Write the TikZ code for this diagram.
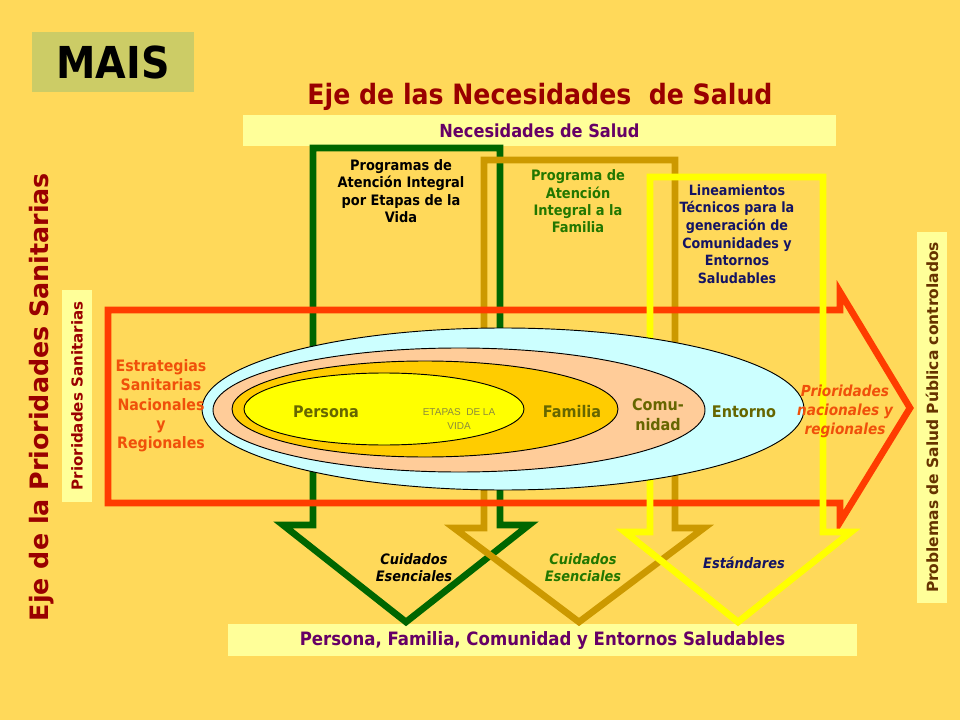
\documentclass[tikz,border=0pt]{standalone}
\usepackage{fontspec}
\setmainfont{DejaVu Sans Condensed}
\newfontfamily\verd{DejaVu Sans}
\newfontfamily\arialf{Liberation Sans}
\usetikzlibrary{shapes.geometric}
\definecolor{bgc}{RGB}{255,217,90}
\definecolor{maisc}{RGB}{204,204,102}
\definecolor{boxc}{RGB}{255,255,153}
\definecolor{darkred}{RGB}{153,0,0}
\definecolor{purp}{RGB}{102,0,102}
\definecolor{brownc}{RGB}{102,51,0}
\definecolor{greenc}{RGB}{0,102,0}
\definecolor{greentxt}{RGB}{34,119,0}
\definecolor{tanc}{RGB}{204,153,0}
\definecolor{yelc}{RGB}{255,255,0}
\definecolor{redc}{RGB}{255,60,0}
\definecolor{redtxt}{RGB}{240,80,10}
\definecolor{navyc}{RGB}{20,20,100}
\definecolor{olivec}{RGB}{102,102,0}
\definecolor{etapc}{RGB}{140,140,60}
\definecolor{bluec}{RGB}{204,255,255}
\definecolor{peachc}{RGB}{255,204,153}
\definecolor{orangec}{RGB}{255,204,0}
\newcommand{\fsz}[2]{\fontsize{#1}{#2}\selectfont}
\tikzset{
  txt/.style={align=center, inner sep=0pt},
  lbox/.style={fill=boxc, inner sep=0pt},
  shaft/.style={line width=5pt, line join=miter},
  ell/.style={ellipse, draw=black, line width=0.7pt, inner sep=0pt},
  inell/.style={txt, text=olivec, font=\fsz{12}{15}\bfseries},
}
\begin{document}
\begin{tikzpicture}[x=0.75pt,y=-0.75pt]
\fill[bgc] (0,0) rectangle (960,720);
\useasboundingbox (0,0) rectangle (960,720);

% MAIS
\node[fill=maisc, minimum width=121.5pt, minimum height=45pt, inner sep=0pt] (mais) at (113,62) {\fsz{33}{33}\bfseries MAIS};

% titles
\node[txt, text=darkred, font=\fsz{21}{24}\bfseries] (titletop) at (540,97) {Eje de las Necesidades~ de Salud};
\node[lbox, minimum width=444.75pt, minimum height=23.25pt, text=purp, font=\fsz{13.5}{15}\bfseries] (necbox) at (539.5,130.5) {Necesidades de Salud};
\node[lbox, minimum width=471.75pt, minimum height=24pt, text=purp, font=\fsz{13.8}{15}\bfseries] (botbox) at (542.5,640) {Persona, Familia, Comunidad y Entornos Saludables};
\node[txt, rotate=90, text=darkred, font=\verd\fsz{19}{22}\bfseries] (titleleft) at (42,397) {Eje de la Prioridades Sanitarias};
\node[lbox, rotate=90, minimum width=159pt, minimum height=22.5pt, text=darkred, font=\verd\fsz{11.3}{13}\bfseries] (priobox) at (77,396) {Prioridades Sanitarias};
\node[lbox, rotate=90, minimum width=278.25pt, minimum height=22.5pt, text=brownc, font=\verd\fsz{11.6}{13}\bfseries] (probbox) at (932,417.5) {Problemas de Salud Pública controlados};

% arrows
\draw[shaft, greenc] (313,148) -- (500,148) -- (500,525) -- (529,525) -- (406,622) -- (283,525) -- (313,525) -- cycle;
\draw[shaft, tanc] (484,160) -- (675,160) -- (675,528) -- (704,528) -- (579,622) -- (454,528) -- (484,528) -- cycle;
\draw[shaft, redc] (108,310) -- (840,310) -- (840,292) -- (910,408) -- (840,522) -- (840,503) -- (108,503) -- cycle;
\draw[shaft, yelc] (650,177) -- (823,177) -- (823,532) -- (851,532) -- (738,622) -- (625,532) -- (650,532) -- cycle;

% ellipses
\node[ell, fill=bluec, minimum width=451.5pt, minimum height=121.5pt] (entorno) at (503,409) {};
\node[ell, fill=peachc, minimum width=369pt, minimum height=93pt] (comunidad) at (459,410) {};
\node[ell, fill=orangec, minimum width=289.5pt, minimum height=72pt] (familia) at (425,409) {};
\node[ell, fill=yelc, minimum width=210pt, minimum height=54pt] (persona) at (384,409) {};

% ellipse labels
\node[inell] (tpersona) at (326,412) {Persona};
\node[txt, text=etapc, font=\arialf\fsz{7.5}{11}] (tetapas) at (459,419) {ETAPAS~ DE LA\\VIDA};
\node[inell] (tfamilia) at (572,412) {Familia};
\node[inell] (tcomu) at (658,415) {Comu-\\nidad};
\node[inell] (tentorno) at (744,412) {Entorno};

% arrow labels
\node[txt, text=black, font=\fsz{10.8}{13}\bfseries] (tprog) at (401,191) {Programas de\\Atención Integral\\por Etapas de la\\Vida};
\node[txt, text=greentxt, font=\fsz{10.8}{13}\bfseries] (tfam) at (578,201.5) {Programa de\\Atención\\Integral a la\\Familia};
\node[txt, text=navyc, font=\fsz{10.6}{13.2}\bfseries] (tlin) at (737,234) {Lineamientos\\Técnicos para la\\generación de\\Comunidades y\\Entornos\\Saludables};
\node[txt, text=redtxt, font=\fsz{11.8}{14.5}\bfseries] (testr) at (161,406) {Estrategias\\Sanitarias\\Nacionales\\y\\Regionales};
\node[txt, text=redtxt, font=\fsz{11.4}{14.3}\bfseries\itshape] (tprio) at (845,411) {Prioridades\\nacionales y\\regionales};
\node[txt, text=black, font=\fsz{10.8}{12.8}\bfseries\itshape] (tcuid1) at (414,568) {Cuidados\\Esenciales};
\node[txt, text=greentxt, font=\fsz{10.8}{12.8}\bfseries\itshape] (tcuid2) at (583,568) {Cuidados\\Esenciales};
\node[txt, text=navyc, font=\fsz{10.8}{12.8}\bfseries\itshape] (test) at (744,563) {Estándares};
\end{tikzpicture}
\end{document}
